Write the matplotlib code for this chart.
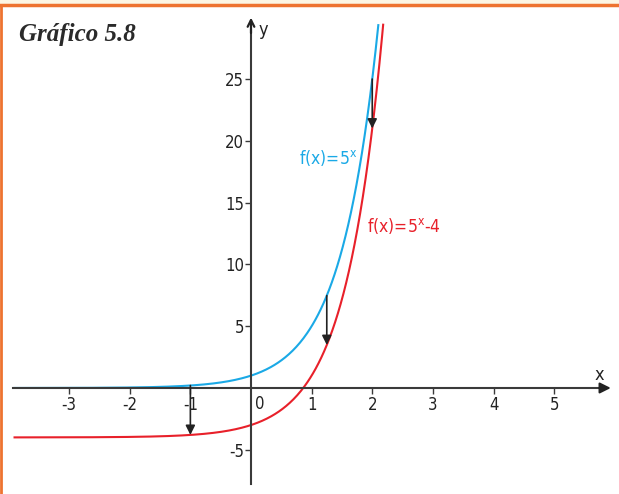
import matplotlib.pyplot as plt
import numpy as np

plt.rcParams["font.family"] = ["DejaVu Sans"]
plt.rcParams["font.stretch"] = "condensed"

# data
base = 5
shift = -4
x_blue = np.linspace(-3.9, 2.1, 400)
x_red = np.linspace(-3.9, 2.18, 400)
arrow_x = [-1, 1.25, 2]
xticks = [-3, -2, -1, 1, 2, 3, 4, 5]
yticks = [-5, 5, 10, 15, 20, 25]
blue = "#1aa9e6"
red = "#e8202a"
axc = "#3a3a3a"

fig = plt.figure(figsize=(6.19, 4.94), dpi=100)
fig.patch.set_facecolor("white")
ax = fig.add_axes([0, 0, 1, 1])
ax.set_xlim(-4.14, 6.07)
ax.set_ylim(-8.58, 31.4)
ax.set_facecolor("none")

# axes through the origin
for s in ["top", "right"]:
    ax.spines[s].set_visible(False)
ax.spines["left"].set_position(("data", 0))
ax.spines["bottom"].set_position(("data", 0))
ax.spines["left"].set_bounds(-7.8, 29)
ax.spines["bottom"].set_bounds(-3.93, 5.8)
for s in ["left", "bottom"]:
    ax.spines[s].set_color(axc)
    ax.spines[s].set_linewidth(1.5)
ax.annotate("", xy=(5.98, 0), xytext=(5.7, 0),
            arrowprops=dict(arrowstyle="-|>", color="#222", lw=1.5, mutation_scale=16))
ax.annotate("", xy=(0, 30.2), xytext=(0, 28.5),
            arrowprops=dict(arrowstyle="->", color="#222", lw=1.6, mutation_scale=12))

ax.set_xticks(xticks)
ax.set_xticklabels([str(t) for t in xticks])
ax.set_yticks(yticks)
ax.set_yticklabels([str(t) for t in yticks])
ax.tick_params(axis="both", colors=axc, labelcolor="#222", labelsize=12, length=4, width=1)
ax.tick_params(axis="x", direction="out", pad=2)
ax.tick_params(axis="y", direction="out", pad=1)
ax.text(0.07, -0.6, "0", fontsize=12, color="#222", ha="left", va="top")
ax.text(5.75, 0.35, "x", fontsize=13, color="#222", ha="center", va="bottom")
ax.text(0.12, 29.0, "y", fontsize=13, color="#222", ha="left", va="center")

# curves
ax.plot(x_blue, base ** x_blue, color=blue, lw=1.5, clip_on=False)
ax.plot(x_red, base ** x_red + shift, color=red, lw=1.5, clip_on=False)

# shift arrows
for xa in arrow_x:
    ax.annotate("", xy=(xa, base ** xa + shift), xytext=(xa, base ** xa),
                arrowprops=dict(arrowstyle="-|>", color="#222", lw=1.2,
                                mutation_scale=14, shrinkA=0, shrinkB=0))

ax.text(0.8, 18.6, "f(x)=5$^{\\mathregular{x}}$", color=blue, fontsize=12.5, ha="left", va="center")
ax.text(1.92, 13.1, "f(x)=5$^{\\mathregular{x}}$-4", color=red, fontsize=12.5, ha="left", va="center")

# title and frame
fig.text(0.03, 0.93, "Gráfico 5.8", family="Liberation Serif", style="italic",
         weight="bold", fontsize=18, color="#2a2a2a", ha="left", va="center")
fig.patches.append(plt.Rectangle((0, 0.99), 1, 0.01, transform=fig.transFigure,
                                 color="#fdf6e4", zorder=0))
fig.lines.append(plt.Line2D([0, 1], [0.989, 0.989], transform=fig.transFigure,
                            color="#ee7330", lw=2.5))
fig.lines.append(plt.Line2D([0.002, 0.002], [0, 0.989], transform=fig.transFigure,
                            color="#ee7330", lw=2))

fig.savefig("out.png", dpi=100)
